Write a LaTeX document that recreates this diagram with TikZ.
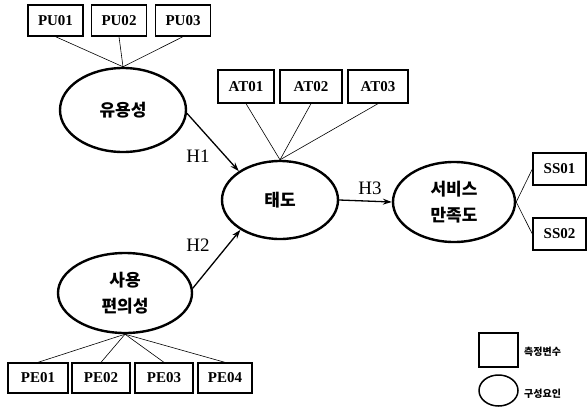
\documentclass[tikz,border=0pt]{standalone}
\usepackage{fontspec}
\setmainfont{Liberation Serif}
\newfontfamily\kr{Noto Sans CJK KR}
\usetikzlibrary{arrows.meta,shapes.geometric}
\begin{document}
\begin{tikzpicture}[x=1pt,y=-1pt,
  ind/.style={draw, line width=1.3pt, minimum width=55pt, minimum height=31pt, inner sep=0pt, font=\bfseries\fontsize{15}{15}\selectfont},
  lat/.style={draw, ellipse, line width=2.4pt, inner sep=0pt, align=center, font=\kr\bfseries\fontsize{17}{26}\selectfont},
  load/.style={line width=0.6pt},
  hyp/.style={-{Stealth[length=9pt,width=6pt]}, line width=1.3pt},
  hlab/.style={inner sep=0pt, font=\fontsize{19}{19}\selectfont},
  legtext/.style={inner sep=0pt, anchor=west, font=\kr\bfseries\fontsize{10}{10}\selectfont}]
\useasboundingbox (0,0) rectangle (588,407);
% latent constructs
\node[lat, minimum width=126pt, minimum height=84pt] (yu) at (123,110) {유용성};
\node[lat, minimum width=134pt, minimum height=80pt] (sa) at (125,293) {사용\\편의성};
\node[lat, minimum width=116pt, minimum height=78pt] (tae) at (280,200) {태도};
\node[lat, minimum width=122pt, minimum height=80pt] (ss) at (454,202) {서비스\\만족도};
% indicators
\node[ind] (pu1) at (55.5,20.5) {PU01};
\node[ind] (pu2) at (119,20.5) {PU02};
\node[ind] (pu3) at (183,20.5) {PU03};
\node[ind, minimum width=56pt, minimum height=33pt] (at1) at (246,86.5) {AT01};
\node[ind, minimum width=62pt, minimum height=33pt] (at2) at (311,86.5) {AT02};
\node[ind, minimum width=60pt, minimum height=33pt] (at3) at (378,86.5) {AT03};
\node[ind, minimum width=60pt, minimum height=30pt] (pe1) at (38,378) {PE01};
\node[ind, minimum width=58pt, minimum height=30pt] (pe2) at (101,378) {PE02};
\node[ind, minimum width=58pt, minimum height=30pt] (pe3) at (164,378) {PE03};
\node[ind, minimum width=54pt, minimum height=30pt] (pe4) at (225,378) {PE04};
\node[ind, minimum width=53pt, minimum height=32pt] (ss1) at (559.5,169) {SS01};
\node[ind, minimum width=53pt, minimum height=32pt] (ss2) at (559.5,234) {SS02};
% loadings
\foreach \b in {pu1,pu2,pu3} \draw[load] (\b.south) -- (yu.north);
\foreach \b in {at1,at2,at3} \draw[load] (\b.south) -- (tae.north);
\foreach \b in {pe1,pe2,pe3,pe4} \draw[load] (\b.north) -- (sa.south);
\foreach \b in {ss1,ss2} \draw[load] (\b.west) -- (ss.east);
% hypotheses
\draw[hyp] (yu.-3) -- (tae.145);
\draw[hyp] (sa.4) -- (tae.217);
\draw[hyp] (tae.east) -- (ss.west);
\node[hlab] (h1) at (198,156) {H1};
\node[hlab] (h2) at (198,245) {H2};
\node[hlab] (h3) at (370,188) {H3};
% legend
\node[draw, line width=1.3pt, minimum width=39pt, minimum height=34pt, inner sep=0pt] (lgbox) at (498.5,350) {};
\node[draw, ellipse, line width=1.5pt, minimum width=39pt, minimum height=31pt, inner sep=0pt] (lgell) at (498.5,390.5) {};
\node[legtext] (lgt1) at (524,352) {측정변수};
\node[legtext] (lgt2) at (524,394) {구성요인};
\end{tikzpicture}
\end{document}
